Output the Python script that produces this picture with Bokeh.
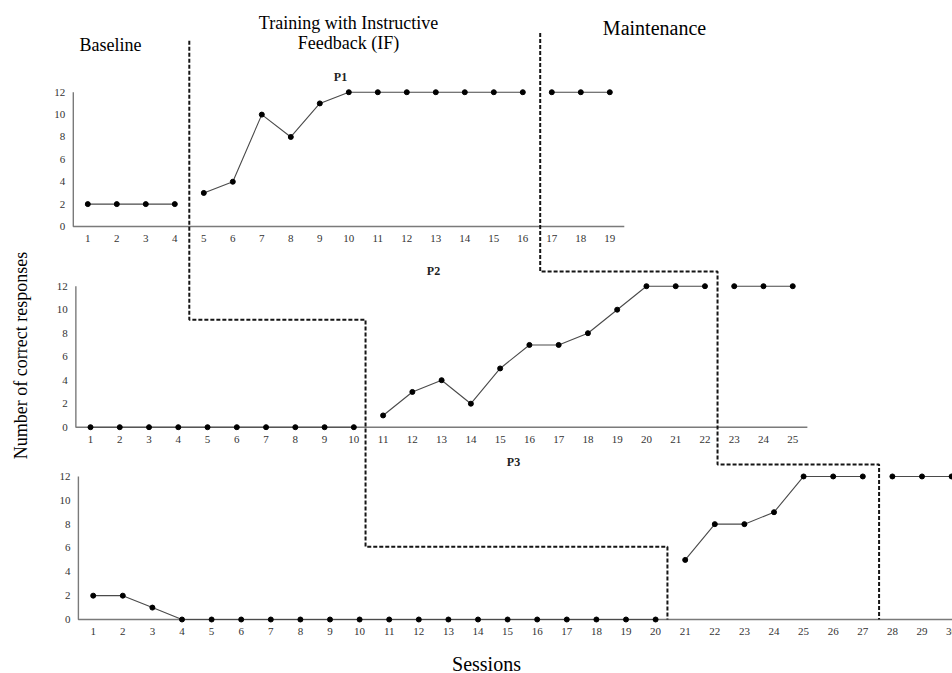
import math
from bokeh.plotting import figure
from bokeh.models import Range1d
from bokeh.core.properties import value
from bokeh.embed import file_html
from bokeh.resources import INLINE

# ---------------- data ----------------
p1_sessions = list(range(1, 20))
p1_values = [2, 2, 2, 2, 3, 4, 10, 8, 11, 12, 12, 12, 12, 12, 12, 12, 12, 12, 12]
p1_phases = [(1, 4), (5, 16), (17, 19)]

p2_sessions = list(range(1, 26))
p2_values = [0, 0, 0, 0, 0, 0, 0, 0, 0, 0,
             1, 3, 4, 2, 5, 7, 7, 8, 10, 12, 12, 12,
             12, 12, 12]
p2_phases = [(1, 10), (11, 22), (23, 25)]

p3_sessions = list(range(1, 31))
p3_values = [2, 2, 1, 0, 0, 0, 0, 0, 0, 0, 0, 0, 0, 0, 0, 0, 0, 0, 0, 0,
             5, 8, 8, 9, 12, 12, 12,
             12, 12, 12]
p3_phases = [(1, 20), (21, 27), (28, 30)]

y_ticks = [0, 2, 4, 6, 8, 10, 12]
panel_titles = ["P1", "P2", "P3"]
phase_labels = ["Baseline", "Training with Instructive", "Feedback (IF)", "Maintenance"]

# phase-change lines: session position in each panel, step level in next panel
phase1_x = [("p1", 4.5), ("p2", 10.4), ("p3", 20.4)]
phase1_levels = [("p1", 16.6), ("p2", 9.15), ("p3", 6.1), ("p3", 0)]
phase2_x = [("p1", 16.6), ("p2", 22.43), ("p3", 27.55)]
phase2_levels = [("p1", 17.3), ("p2", 13.25), ("p3", 13.0), ("p3", 0)]

# ---------------- layout ----------------
W, H, OFF = 952, 673, 0
FONT = value("Liberation Serif")
PANELS = {
    "p1": dict(x0=58.3, dx=29.0, y0=226.0, dy=11.19, xmax=19.5),
    "p2": dict(x0=60.74, dx=29.26, y0=426.7, dy=11.75, xmax=25.5),
    "p3": dict(x0=63.1, dx=29.6, y0=619.0, dy=11.92, xmax=30.6),
}

p = figure(width=W, height=H, output_backend="svg", toolbar_location=None,
           x_axis_type=None, y_axis_type=None,
           x_range=Range1d(OFF, OFF + W), y_range=Range1d(OFF + H, OFF),
           min_border=0, outline_line_color=None,
           background_fill_color="white", border_fill_color="white")

p.extra_x_ranges = {k: Range1d((OFF - L["x0"]) / L["dx"], (OFF + W - L["x0"]) / L["dx"])
                    for k, L in PANELS.items()}
p.extra_y_ranges = {k: Range1d((L["y0"] - (OFF + H)) / L["dy"], (L["y0"] - OFF) / L["dy"])
                    for k, L in PANELS.items()}


def px(panel, s):
    L = PANELS[panel]
    return L["x0"] + s * L["dx"]


def py(panel, v):
    L = PANELS[panel]
    return L["y0"] - v * L["dy"]


panels = [("p1", p1_sessions, p1_values, p1_phases),
          ("p2", p2_sessions, p2_values, p2_phases),
          ("p3", p3_sessions, p3_values, p3_phases)]

AXIS_COLOR = "#7a7a7a"
TICK_COLOR = "#333333"

for name, sess, vals, phases in panels:
    L = PANELS[name]
    kw = dict(x_range_name=name, y_range_name=name)
    # axes
    p.line(x=[0.5, 0.5, L["xmax"]], y=[12, 0, 0], line_color=AXIS_COLOR, line_width=1.4, **kw)
    # x tick labels
    p.text(x=sess, y=[0] * len(sess), text=[str(s) for s in sess], y_offset=12,
           text_align="center", text_baseline="middle", text_font=FONT,
           text_font_size="11px", text_color=TICK_COLOR, **kw)
    # y tick labels
    p.text(x=[0.5] * len(y_ticks), y=y_ticks, text=[str(t) for t in y_ticks], x_offset=-8,
           text_align="right", text_baseline="middle", text_font=FONT,
           text_font_size="11px", text_color=TICK_COLOR, **kw)
    # data
    for a, b in phases:
        xs = [s for s in sess if a <= s <= b]
        ys = [vals[sess.index(s)] for s in xs]
        p.line(x=xs, y=ys, line_color="#4a4a4a", line_width=1.1, **kw)
        p.scatter(x=xs, y=ys, size=5, fill_color="black", line_color="black", **kw)


def phase_path(xs, levels):
    vx, vy = [], []
    vx.append(px(*xs[0])); vy.append(py(*levels[0]))
    for i, xp in enumerate(xs):
        vx.append(px(*xp)); vy.append(py(*levels[i + 1]))
        if i + 1 < len(xs):
            vx.append(px(*xs[i + 1])); vy.append(py(*levels[i + 1]))
    return vx, vy


for xs, lv in [(phase1_x, phase1_levels), (phase2_x, phase2_levels)]:
    vx, vy = phase_path(xs, lv)
    p.line(x=vx, y=vy, line_color="#151515", line_width=2, line_dash="4 2")

# panel titles
p.text(x=[340, 433, 513], y=[76, 270, 461], text=panel_titles, text_align="center",
       text_baseline="middle", text_font=FONT, text_font_size="12px",
       text_font_style="bold", text_color="#222222")

# phase labels
p.text(x=[110], y=[44], text=[phase_labels[0]], text_align="center", text_baseline="middle",
       text_font=FONT, text_font_size="18px", text_color="black")
p.text(x=[348, 348], y=[22, 42], text=phase_labels[1:3], text_align="center",
       text_baseline="middle", text_font=FONT, text_font_size="18px", text_color="black")
p.text(x=[654], y=[27], text=[phase_labels[3]], text_align="center", text_baseline="middle",
       text_font=FONT, text_font_size="20px", text_color="black")

# axis titles
p.text(x=[20], y=[355], text=["Number of correct responses"], angle=math.pi / 2,
       text_align="center", text_baseline="middle", text_font=FONT,
       text_font_size="18px", text_color="black")
p.text(x=[486], y=[663], text=["Sessions"], text_align="center", text_baseline="middle",
       text_font=FONT, text_font_size="20px", text_color="black")

open("out.html", "w").write(file_html(p, INLINE))
